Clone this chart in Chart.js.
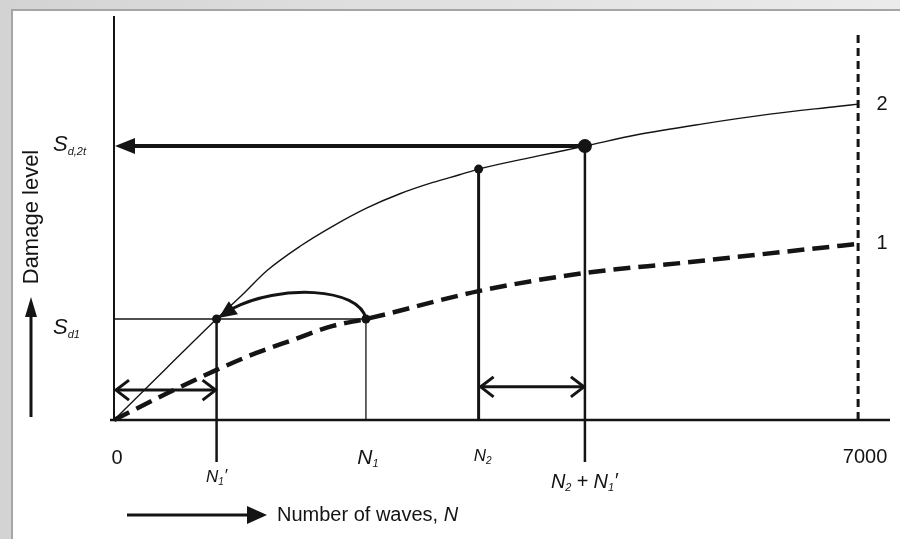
<!DOCTYPE html>
<html>
<head>
<meta charset="utf-8">
<script src="https://cdn.jsdelivr.net/npm/chart.js@4.4.0/dist/chart.umd.min.js"></script>
<style>
html, body { margin: 0; padding: 0; }
body {
    width: 900px; height: 539px; position: relative; overflow: hidden;
    background: linear-gradient(to right, #d3d3d3, #e0e0e0 45%, #ebebeb);
}
#panel {
    position: absolute; left: 11px; top: 9px; right: 0; bottom: 0;
    background: #fff; border-left: 2px solid #a5a5a5; border-top: 2px solid #a5a5a5;
}
#chart { position: absolute; left: 0; top: 0; }
</style>
</head>
<body>
<div id="panel"></div>
<canvas id="chart" width="900" height="539"></canvas>
<script>
// curve 2 (thin solid) and curve 1 (thick dashed), damage vs number of waves
const curve2Waves = [0, 500, 965, 1200, 1440, 1750, 2060, 2380, 2690, 3000, 3250, 3430, 3980, 4430, 4920, 5540, 6170, 6800, 7000];
const curve2Damage = [0, 1.3, 2.5, 3.08, 3.7, 4.3, 4.8, 5.25, 5.6, 5.88, 6.07, 6.21, 6.53, 6.78, 7.06, 7.33, 7.57, 7.76, 7.82];

const curve1Waves = [0, 500, 965, 1340, 1680, 2060, 2370, 3430, 4430, 5350, 6290, 7000];
const curve1Damage = [0, 0.66, 1.24, 1.66, 1.98, 2.33, 2.5, 3.19, 3.64, 3.89, 4.16, 4.36];

// key positions on the wave axis
const N1p = 965;      // N1'
const N1 = 2370;
const N2 = 3430;
const N2N1p = 4430;   // N2 + N1'
const Nmax = 7000;

// key damage levels
const Sd1 = 2.5;
const SdN2 = 6.21;
const Sd2t = 6.78;
const limitTop = 9.58;
const belowAxis = -1.04;
const arrow1Level = 0.74;
const arrow2Level = 0.82;

const xTickValues = [0, Nmax];
const xTickLabels = ['0', '7000'];

const ink = '#141414';

function seg(points) {
    return points.map(p => ({ x: p[0], y: p[1] }));
}

function lineSet(points, width, dash) {
    return {
        data: seg(points),
        borderColor: ink,
        borderWidth: width,
        borderDash: dash || [],
        pointRadius: 0,
        fill: false,
        clip: false
    };
}

// text with an italic main part, a subscript and an optional suffix
function drawSub(ctx, x, y, main, sub, suffix, size, subSize, align) {
    ctx.textBaseline = 'middle';
    ctx.textAlign = 'left';
    const mainFont = 'italic ' + size + 'px "Liberation Sans", Arial, sans-serif';
    const subFont = 'italic ' + subSize + 'px "Liberation Sans", Arial, sans-serif';
    ctx.font = mainFont;
    const wMain = ctx.measureText(main).width;
    ctx.font = subFont;
    const wSub = ctx.measureText(sub).width;
    ctx.font = mainFont;
    const wSuf = suffix ? ctx.measureText(suffix).width : 0;
    const total = wMain + wSub + wSuf;
    let sx = align === 'left' ? x : x - total / 2;
    ctx.font = mainFont;
    ctx.fillText(main, sx, y);
    ctx.font = subFont;
    ctx.fillText(sub, sx + wMain, y + size * 0.3);
    if (suffix) {
        ctx.font = mainFont;
        ctx.fillText(suffix, sx + wMain + wSub, y - 1);
    }
    return sx + total;
}

function arrowHead(ctx, tipX, tipY, angle, len, half) {
    ctx.save();
    ctx.translate(tipX, tipY);
    ctx.rotate(angle);
    ctx.beginPath();
    ctx.moveTo(0, 0);
    ctx.lineTo(-len, -half);
    ctx.lineTo(-len, half);
    ctx.closePath();
    ctx.fill();
    ctx.restore();
}

function chevron(ctx, tipX, tipY, dir) {
    ctx.beginPath();
    ctx.moveTo(tipX - dir * 13, tipY - 10);
    ctx.lineTo(tipX, tipY);
    ctx.lineTo(tipX - dir * 13, tipY + 10);
    ctx.stroke();
}

const diagramPlugin = {
    id: 'diagram',
    beforeDatasetsDraw(chart) {
        const ctx = chart.ctx;
        const xs = chart.scales.x, ys = chart.scales.y;
        ctx.save();
        ctx.strokeStyle = ink;
        // axes
        ctx.lineWidth = 2;
        ctx.beginPath();
        ctx.moveTo(xs.getPixelForValue(0), ys.getPixelForValue(0));
        ctx.lineTo(xs.getPixelForValue(0), ys.getPixelForValue(10));
        ctx.stroke();
        ctx.lineWidth = 2.5;
        ctx.beginPath();
        ctx.moveTo(xs.getPixelForValue(0) - 4, ys.getPixelForValue(0));
        ctx.lineTo(xs.getPixelForValue(7300), ys.getPixelForValue(0));
        ctx.stroke();
        ctx.restore();
    },
    afterDatasetsDraw(chart) {
        const ctx = chart.ctx;
        const xs = chart.scales.x, ys = chart.scales.y;
        const px = v => xs.getPixelForValue(v);
        const py = v => ys.getPixelForValue(v);
        ctx.save();
        ctx.fillStyle = ink;
        ctx.strokeStyle = ink;
        ctx.lineCap = 'butt';

        // big arrow back to the y axis at Sd,2t
        ctx.lineWidth = 4;
        ctx.beginPath();
        ctx.moveTo(px(N2N1p), py(Sd2t));
        ctx.lineTo(px(0) + 16, py(Sd2t));
        ctx.stroke();
        arrowHead(ctx, px(0) + 1, py(Sd2t), Math.PI, 20, 8);

        // double arrows
        ctx.lineWidth = 3;
        [[0, N1p, arrow1Level], [N2, N2N1p, arrow2Level]].forEach(a => {
            const x1 = px(a[0]) + 2, x2 = px(a[1]) - 1, y = py(a[2]);
            ctx.beginPath();
            ctx.moveTo(x1, y);
            ctx.lineTo(x2, y);
            ctx.stroke();
            chevron(ctx, x1, y, -1);
            chevron(ctx, x2, y, 1);
        });

        // curved arrow from curve 1 at N1 to curve 2 at N1'
        const p0 = { x: px(N1), y: py(Sd1) };
        const p3 = { x: px(N1p) + 2, y: py(Sd1) - 1 };
        const c1 = { x: p0.x - 6, y: p0.y - 32 };
        const c2 = { x: p3.x + 60, y: p3.y - 34 };
        ctx.lineWidth = 3;
        ctx.beginPath();
        ctx.moveTo(p0.x, p0.y);
        ctx.bezierCurveTo(c1.x, c1.y, c2.x, c2.y, p3.x + 13, p3.y - 9);
        ctx.stroke();
        arrowHead(ctx, p3.x, p3.y, Math.atan2(9, -13), 18, 8);

        // tick labels
        ctx.textBaseline = 'middle';
        ctx.textAlign = 'center';
        ctx.font = '20px "Liberation Sans", Arial, sans-serif';
        ctx.fillText(xTickLabels[0], px(xTickValues[0]) + 3, 458);
        ctx.fillText(xTickLabels[1], px(xTickValues[1]) + 7, 457);
        drawSub(ctx, px(N1) + 2, 458, 'N', '1', '', 21, 11);
        drawSub(ctx, px(N2) + 4, 456, 'N', '2', '', 17, 10);
        drawSub(ctx, px(N1p), 477, 'N', '1', '\u2032', 17, 10);
        // N2 + N1'
        let tx = px(N2N1p) - 34;
        tx = drawSub(ctx, tx, 482, 'N', '2', '', 20, 11, 'left');
        ctx.font = '20px "Liberation Sans", Arial, sans-serif';
        ctx.textAlign = 'center';
        ctx.fillText('+', tx + 11, 482);
        drawSub(ctx, tx + 22, 482, 'N', '1', '\u2032', 20, 11, 'left');

        // y labels
        drawSub(ctx, 53, py(Sd2t) - 1, 'S', 'd,2t', '', 22, 11, 'left');
        drawSub(ctx, 53, py(Sd1) + 9, 'S', 'd1', '', 22, 11, 'left');

        // curve numbers
        ctx.font = '20px "Liberation Sans", Arial, sans-serif';
        ctx.textAlign = 'center';
        ctx.fillText('2', px(Nmax) + 24, py(curve2Damage[curve2Damage.length - 1]));
        ctx.fillText('1', px(Nmax) + 24, py(curve1Damage[curve1Damage.length - 1]));

        // y axis title with arrow
        ctx.save();
        ctx.translate(32, 217);
        ctx.rotate(-Math.PI / 2);
        ctx.font = '22px "Liberation Sans", Arial, sans-serif';
        ctx.textAlign = 'center';
        ctx.textBaseline = 'middle';
        ctx.fillText('Damage level', 0, 0);
        ctx.restore();
        ctx.lineWidth = 3;
        ctx.beginPath();
        ctx.moveTo(31, 417);
        ctx.lineTo(31, 312);
        ctx.stroke();
        arrowHead(ctx, 31, 297, -Math.PI / 2, 20, 6);

        // x axis title with arrow
        ctx.beginPath();
        ctx.moveTo(127, 515);
        ctx.lineTo(250, 515);
        ctx.stroke();
        arrowHead(ctx, 267, 515, 0, 20, 9);
        ctx.textAlign = 'left';
        ctx.font = '20px "Liberation Sans", Arial, sans-serif';
        ctx.fillText('Number of waves, ', 277, 515);
        const w = ctx.measureText('Number of waves, ').width;
        ctx.font = 'italic 20px "Liberation Sans", Arial, sans-serif';
        ctx.fillText('N', 277 + w, 515);

        ctx.restore();
    }
};

const datasets = [
    {
        data: [
            { x: N1p, y: Sd1 }, { x: N1, y: Sd1 },
            { x: N2, y: SdN2 }, { x: N2N1p, y: Sd2t }
        ],
        showLine: false,
        pointRadius: [4.5, 4.5, 4.5, 7],
        pointBackgroundColor: ink,
        pointBorderWidth: 0,
        clip: false
    },
    Object.assign(lineSet(curve2Waves.map((n, i) => [n, curve2Damage[i]]), 1.4), { cubicInterpolationMode: 'monotone' }),
    Object.assign(lineSet(curve1Waves.map((n, i) => [n, curve1Damage[i]]), 4.5, [17, 8]), { cubicInterpolationMode: 'monotone' }),
    lineSet([[Nmax, 0], [Nmax, limitTop]], 3, [8, 5]),
    lineSet([[0, Sd1], [N1, Sd1]], 1.3),
    lineSet([[N1, 0], [N1, Sd1]], 1.3),
    lineSet([[N1p, belowAxis], [N1p, Sd1]], 2.5),
    lineSet([[N2, 0], [N2, SdN2]], 3),
    lineSet([[N2N1p, belowAxis], [N2N1p, Sd2t]], 2.5)
];

new Chart(document.getElementById('chart'), {
    type: 'line',
    data: { datasets: datasets },
    options: {
        responsive: false,
        animation: false,
        layout: { padding: { left: 114, right: 10, top: 16, bottom: 119 } },
        plugins: { legend: { display: false }, tooltip: { enabled: false } },
        scales: {
            x: { type: 'linear', min: 0, max: 7300, display: false },
            y: { type: 'linear', min: 0, max: 10, display: false }
        }
    },
    plugins: [diagramPlugin]
});
</script>
</body>
</html>
